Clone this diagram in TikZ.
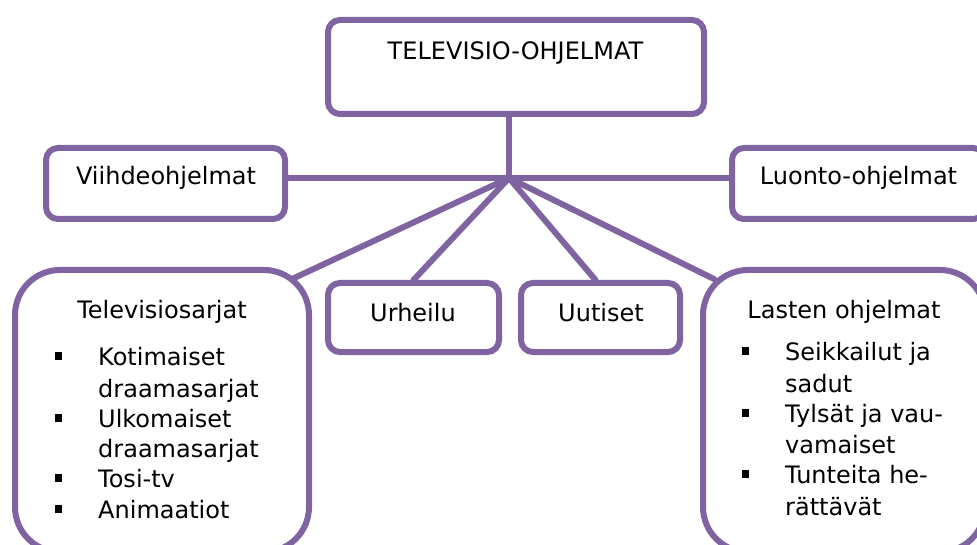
\documentclass[tikz,border=0pt]{standalone}
\usepackage{fontspec}
\setmainfont{DejaVu Sans}
\definecolor{boxline}{HTML}{8064A2}
\tikzset{
  box/.style={draw=boxline, line width=6pt, rounded corners=12pt, fill=white, inner sep=0pt},
  bigbox/.style={box, rounded corners=45pt},
  txt/.style={anchor=base, inner sep=0pt, font=\fontsize{24}{30}\selectfont},
  item/.style={txt, anchor=base west},
  conn/.style={draw=boxline, line width=6pt, line cap=round}
}
\begin{document}
\begin{tikzpicture}[x=1pt,y=-1pt]
\useasboundingbox (0,0) rectangle (977,545);

\node[box, minimum width=376pt, minimum height=94pt] (top) at (516,67) {};
\node[box, minimum width=239pt, minimum height=71pt] (viihde) at (165.5,183.5) {};
\node[box, minimum width=253pt, minimum height=71pt] (luonto) at (858.5,183.5) {};
\node[box, minimum width=171pt, minimum height=69pt] (urh) at (413.5,317.5) {};
\node[box, minimum width=159pt, minimum height=69pt] (uut) at (600.5,317.5) {};
\node[bigbox, minimum width=294pt, minimum height=282pt] (tvs) at (162,411) {};
\node[bigbox, minimum width=282pt, minimum height=282pt] (lasten) at (844,411) {};

\coordinate (hub) at (509,178);
\draw[conn] ([xshift=-7pt]top.south) -- (hub);
\draw[conn] (viihde.east |- hub) -- (luonto.west |- hub);
\draw[conn] (hub) -- ([shift={(-20pt,-12pt)}]tvs.north east);
\draw[conn] (hub) -- (urh.north);
\draw[conn] (hub) -- ([xshift=-5pt]uut.north);
\draw[conn] (hub) -- ([shift={(14pt,-12pt)}]lasten.north west);

\node[txt] (toptxt) at (515.5,60) {TELEVISIO-OHJELMAT};
\node[txt] (viihdetxt) at (166,185) {Viihdeohjelmat};
\node[txt] (luontotxt) at (858.5,185) {Luonto-ohjelmat};
\node[txt] (urhtxt) at (413,322) {Urheilu};
\node[txt] (uuttxt) at (601,322) {Uutiset};
\node[txt] (tvstxt) at (162,318) {Televisiosarjat};
\node[txt] (lastentxt) at (844,318) {Lasten ohjelmat};

\foreach \y/\t [count=\i] in {365/Kotimaiset, 397/draamasarjat, 427/Ulkomaiset, 457/draamasarjat, 487/Tosi-tv, 518/Animaatiot}
  \node[item] (tvs\i) at (98,\y) {\t};
\foreach \y in {365,427,487,518}
  \fill (55,\y-13) rectangle +(7,8);

\foreach \y/\t [count=\i] in {360/Seikkailut ja, 392/sadut, 422/Tylsät ja vau-, 453/vamaiset, 483/Tunteita he-, 515/rättävät}
  \node[item] (lasten\i) at (785,\y) {\t};
\foreach \y in {360,422,483}
  \fill (742,\y-13) rectangle +(7,8);
\end{tikzpicture}
\end{document}
